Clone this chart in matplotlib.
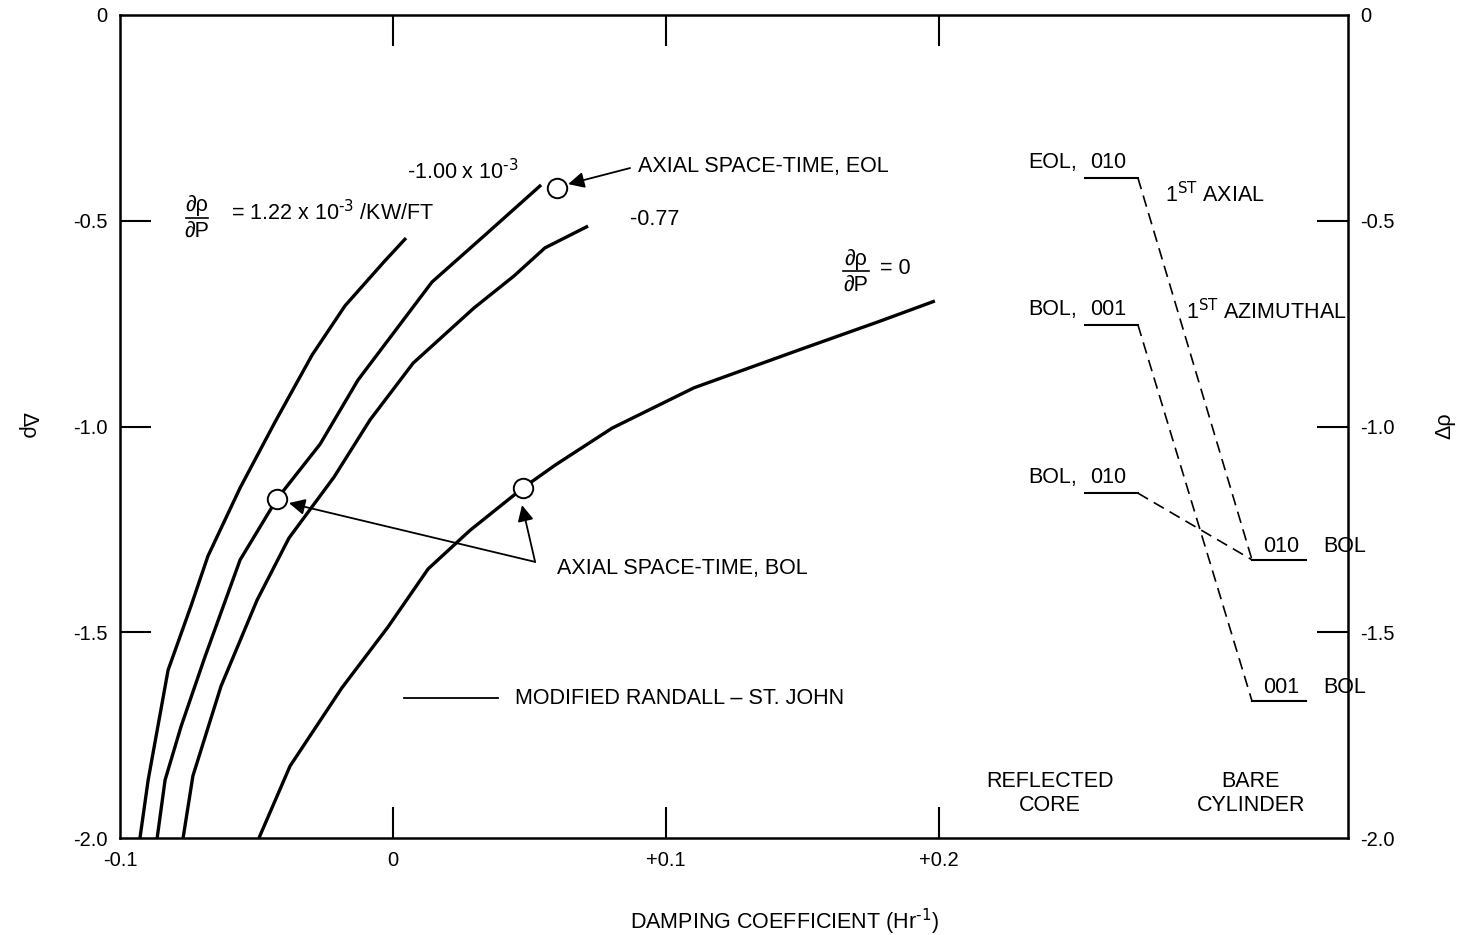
import matplotlib
matplotlib.use('Agg')
import matplotlib.pyplot as plt

plt.rcParams['font.family'] = ['Liberation Sans', 'DejaVu Sans']
plt.rcParams['mathtext.default'] = 'regular'
plt.rcParams['axes.unicode_minus'] = False

# curves (damping coefficient, delta rho)
x_122 = [0.0048, -0.0033, -0.0176, -0.0296, -0.0432, -0.0560, -0.0678, -0.0740, -0.0824, -0.0897, -0.0927]
y_122 = [-0.542, -0.600, -0.707, -0.826, -0.989, -1.149, -1.315, -1.436, -1.592, -1.859, -2.0]

x_100 = [0.0543, 0.0337, 0.0143, 0.0011, -0.0128, -0.0267, -0.0425, -0.0560, -0.0689, -0.0776, -0.0835, -0.0864]
y_100 = [-0.413, -0.535, -0.649, -0.765, -0.887, -1.043, -1.176, -1.324, -1.560, -1.728, -1.859, -2.0]

x_077 = [0.0715, 0.0557, 0.0444, 0.0297, 0.0074, -0.0084, -0.0216, -0.0381, -0.0498, -0.0630, -0.0733, -0.0769]
y_077 = [-0.513, -0.566, -0.634, -0.712, -0.846, -0.984, -1.123, -1.271, -1.422, -1.631, -1.849, -2.0]

x_000 = [0.1986, 0.1785, 0.1488, 0.1103, 0.0803, 0.0594, 0.0477, 0.0283, 0.0129, -0.0018, -0.0187, -0.0377, -0.0491]
y_000 = [-0.695, -0.744, -0.814, -0.906, -1.004, -1.094, -1.149, -1.252, -1.346, -1.487, -1.635, -1.825, -2.0]

# axial space-time points
st_x = [0.0601, -0.0425, 0.0477]
st_y = [-0.420, -1.176, -1.149]

# mode levels (reflected core on the left, bare cylinder on the right)
core_levels = [-0.396, -0.753, -1.162]
core_names = ['EOL,', 'BOL,', 'BOL,']
core_modes = ['010', '001', '010']
bare_levels = [-1.324, -1.667]
bare_modes = ['010', '001']
links = [(0, 0), (1, 1), (2, 0)]

xticks = [-0.1, 0, 0.1, 0.2]
xtick_labels = ['-0.1', '0', '+0.1', '+0.2']
xmarks = [0, 0.1, 0.2]
yticks = [0, -0.5, -1.0, -1.5, -2.0]
ytick_labels = ['0', '-0.5', '-1.0', '-1.5', '-2.0']
ymarks = [-0.5, -1.0, -1.5]

fig = plt.figure(figsize=(14.64, 9.35), dpi=100)
ax = fig.add_axes([0.082, 0.1037, 0.8388, 0.8803])
ax.set_xlim(-0.1, 0.35)
ax.set_ylim(-2.0, 0)

fs = 15.5
lw_curve = 2.4

for xs, ys in [(x_122, y_122), (x_100, y_100), (x_077, y_077), (x_000, y_000)]:
    ax.plot(xs, ys, color='black', lw=lw_curve, solid_capstyle='butt', zorder=3)

ax.plot(st_x, st_y, 'o', ms=14, mfc='white', mec='black', mew=1.4, zorder=5)

arrow = dict(arrowstyle='-|>', mutation_scale=24, lw=1.3, color='black', shrinkA=0, shrinkB=0)
ax.annotate('', xy=(0.0642, -0.411), xytext=(0.0869, -0.372), arrowprops=arrow, zorder=6)
ax.text(0.0898, -0.369, 'AXIAL SPACE-TIME, EOL', fontsize=fs, va='center')
ax.annotate('', xy=(-0.0381, -1.186), xytext=(0.0521, -1.329), arrowprops=arrow, zorder=6)
ax.annotate('', xy=(0.0473, -1.191), xytext=(0.0521, -1.329), arrowprops=arrow, zorder=6)
ax.text(0.0601, -1.344, 'AXIAL SPACE-TIME, BOL', fontsize=fs, va='center')

# curve labels
def dfrac(xc, ytop, ybar, ybot, half):
    ax.text(xc, ytop, '∂ρ', fontsize=fs, ha='center', va='center')
    ax.text(xc, ybot, '∂P', fontsize=fs, ha='center', va='center')
    ax.plot([xc - half, xc + half], [ybar, ybar], color='black', lw=1.2)

sup3 = r'$^{\text{-3}}$'
dfrac(-0.0718, -0.464, -0.493, -0.526, 0.0042)
ax.text(-0.0593, -0.481, '= 1.22 x 10' + sup3 + ' /KW/FT', fontsize=fs, va='center')
ax.text(0.0052, -0.3815, '-1.00 x 10' + sup3, fontsize=fs, va='center')
ax.text(0.0869, -0.498, '-0.77', fontsize=fs, va='center')
dfrac(0.1697, -0.595, -0.622, -0.656, 0.0046)
ax.text(0.1785, -0.617, '= 0', fontsize=fs, va='center')

ax.plot([0.0041, 0.0385], [-1.660, -1.660], color='black', lw=1.3)
ax.text(0.0447, -1.660, 'MODIFIED RANDALL – ST. JOHN', fontsize=fs, va='center')

# schematic of mode levels
cx0, cx1 = 0.2536, 0.2730
bx0, bx1 = 0.3148, 0.3346
for lev, name, mode in zip(core_levels, core_names, core_modes):
    ax.plot([cx0, cx1], [lev, lev], color='black', lw=1.5)
    ax.text(0.2327, lev + 0.037, name, fontsize=fs, va='center')
    ax.text(0.2555, lev + 0.037, mode, fontsize=fs, va='center')
for lev, mode in zip(bare_levels, bare_modes):
    ax.plot([bx0, bx1], [lev, lev], color='black', lw=1.5)
    ax.text(0.3190, lev + 0.032, mode, fontsize=fs, va='center')
    ax.text(0.3410, lev + 0.032, 'BOL', fontsize=fs, va='center', clip_on=False)
for i, j in links:
    ax.plot([cx1, bx0], [core_levels[i], bare_levels[j]], color='black', lw=1.2,
            dashes=(7, 4))

sup_st = r'$^{\text{ST}}$'
ax.text(0.2829, -0.437, '1' + sup_st + ' AXIAL', fontsize=fs, va='center')
ax.text(0.2905, -0.722, '1' + sup_st + ' AZIMUTHAL', fontsize=fs, va='center', clip_on=False)
ax.text(0.2408, -1.891, 'REFLECTED\nCORE', fontsize=fs, ha='center', va='center', linespacing=1.2)
ax.text(0.3144, -1.891, 'BARE\nCYLINDER', fontsize=fs, ha='center', va='center', linespacing=1.2)

# axes styling: labels on major ticks, marks on minor ticks (no corner marks)
for s in ax.spines.values():
    s.set_linewidth(1.8)
ax.xaxis.remove_overlapping_locs = False
ax.yaxis.remove_overlapping_locs = False
ax.set_xticks(xticks)
ax.set_xticklabels(xtick_labels)
ax.set_yticks(yticks)
ax.set_yticklabels(ytick_labels)
ax.set_xticks(xmarks, minor=True)
ax.set_yticks(ymarks, minor=True)
ax.tick_params(which='major', length=0, labelsize=14.5, pad=9, right=True, labelright=True)
ax.tick_params(which='minor', direction='in', length=22, width=1.5,
               top=True, bottom=True, left=True, right=True)

fig.text(0.019, 0.545, 'Δρ', fontsize=fs, rotation=-90, ha='center', va='center')
fig.text(0.987, 0.545, 'Δρ', fontsize=fs, rotation=90, ha='center', va='center')
fig.text(0.536, 0.014, r'DAMPING COEFFICIENT (Hr$^{\text{-1}}$)', fontsize=fs, ha='center', va='center')

fig.savefig('out.png', dpi=100)
